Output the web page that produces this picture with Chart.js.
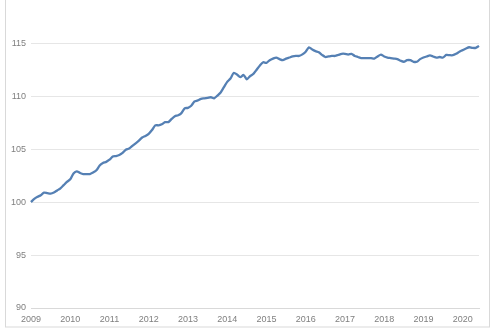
<!DOCTYPE html>
<html>
<head>
<meta charset="utf-8">
<script src="https://cdn.jsdelivr.net/npm/chart.js@4.4.1/dist/chart.umd.min.js"></script>
<style>
  html, body { margin: 0; padding: 0; background: #fff; }
  #wrap { position: relative; width: 500px; height: 330px; }
</style>
</head>
<body>
<div id="wrap"><canvas id="indexChart" width="500" height="330"></canvas></div>
<script>
// DATA
const firstYear = 2009;
const yearTicks = [90, 95, 100, 105, 110, 115];

// monthly index, Jan 2009 = 100
const indexValues = [
  100.0, 100.3, 100.5, 100.65, 100.9, 100.85, 100.8, 100.9, 101.1, 101.3, 101.6, 101.9,
  102.15, 102.7, 102.9, 102.75, 102.65, 102.65, 102.65, 102.8, 103.0, 103.45, 103.7, 103.8,
  104.0, 104.3, 104.35, 104.45, 104.65, 104.95, 105.05, 105.3, 105.55, 105.8, 106.1, 106.25,
  106.45, 106.8, 107.25, 107.25, 107.35, 107.55, 107.55, 107.85, 108.1, 108.2, 108.4, 108.85,
  108.9, 109.1, 109.5, 109.6, 109.75, 109.8, 109.85, 109.9, 109.8, 110.05, 110.35, 110.85,
  111.35, 111.67, 112.2, 112.05, 111.8, 112.0, 111.6, 111.9, 112.1, 112.5, 112.9, 113.2,
  113.15, 113.4, 113.55, 113.65, 113.5, 113.4, 113.55, 113.65, 113.75, 113.8, 113.8, 113.95,
  114.2, 114.6, 114.4, 114.25, 114.15, 113.9, 113.7, 113.75, 113.8, 113.8, 113.9, 114.0,
  114.0, 113.93, 114.0, 113.8, 113.7, 113.6, 113.6, 113.6, 113.6, 113.55, 113.75, 113.93,
  113.75, 113.65, 113.6, 113.55, 113.5, 113.35, 113.25, 113.4, 113.4, 113.25, 113.25, 113.5,
  113.65, 113.75, 113.85, 113.75, 113.65, 113.7, 113.65, 113.9, 113.87, 113.87, 114.0, 114.2,
  114.35, 114.5, 114.62, 114.56, 114.56, 114.75
];

// month labels, one per value
const monthLabels = indexValues.map(function (v, i) {
  const y = firstYear + Math.floor(i / 12);
  const m = (i % 12) + 1;
  return y + "-" + (m < 10 ? "0" + m : m);
});

// outer chart frame like the spreadsheet border
const framePlugin = {
  id: "frame",
  afterDraw(chart) {
    const ctx = chart.ctx;
    ctx.save();
    ctx.strokeStyle = "#d9d9d9";
    ctx.lineWidth = 1;
    ctx.strokeRect(5.5, -5, 484, 332);
    ctx.restore();
  }
};

new Chart(document.getElementById("indexChart"), {
  type: "line",
  data: {
    labels: monthLabels,
    datasets: [{
      data: indexValues,
      borderColor: "#5580b4",
      borderWidth: 2.3,
      pointRadius: 0,
      tension: 0.25,
      fill: false
    }]
  },
  options: {
    responsive: false,
    animation: false,
    layout: { autoPadding: false, padding: { left: 0, right: 21, top: 1, bottom: 0 } },
    plugins: { legend: { display: false }, tooltip: { enabled: false } },
    scales: {
      x: {
        type: "category",
        offset: false,
        afterFit: function (s) { s.height = 22; },
        grid: { display: false },
        border: { display: true, color: "#d9d9d9", width: 1 },
        ticks: {
          autoSkip: false,
          maxRotation: 0,
          padding: -2,
          color: "#7f7f7f",
          font: { family: "Liberation Sans", size: 9 },
          callback: function (value, index) {
            return index % 12 === 0 ? String(firstYear + index / 12) : null;
          }
        }
      },
      y: {
        min: 90,
        max: 118.1,
        afterFit: function (s) { s.width = 31; },
        afterBuildTicks: function (s) {
          s.ticks = yearTicks.map(function (v) { return { value: v }; });
        },
        grid: { color: "#e6e6e6", drawTicks: false, lineWidth: 1 },
        border: { display: false },
        ticks: {
          padding: 5,
          color: "#7f7f7f",
          font: { family: "Liberation Sans", size: 9 }
        }
      }
    }
  },
  plugins: [framePlugin]
});
</script>
</body>
</html>
